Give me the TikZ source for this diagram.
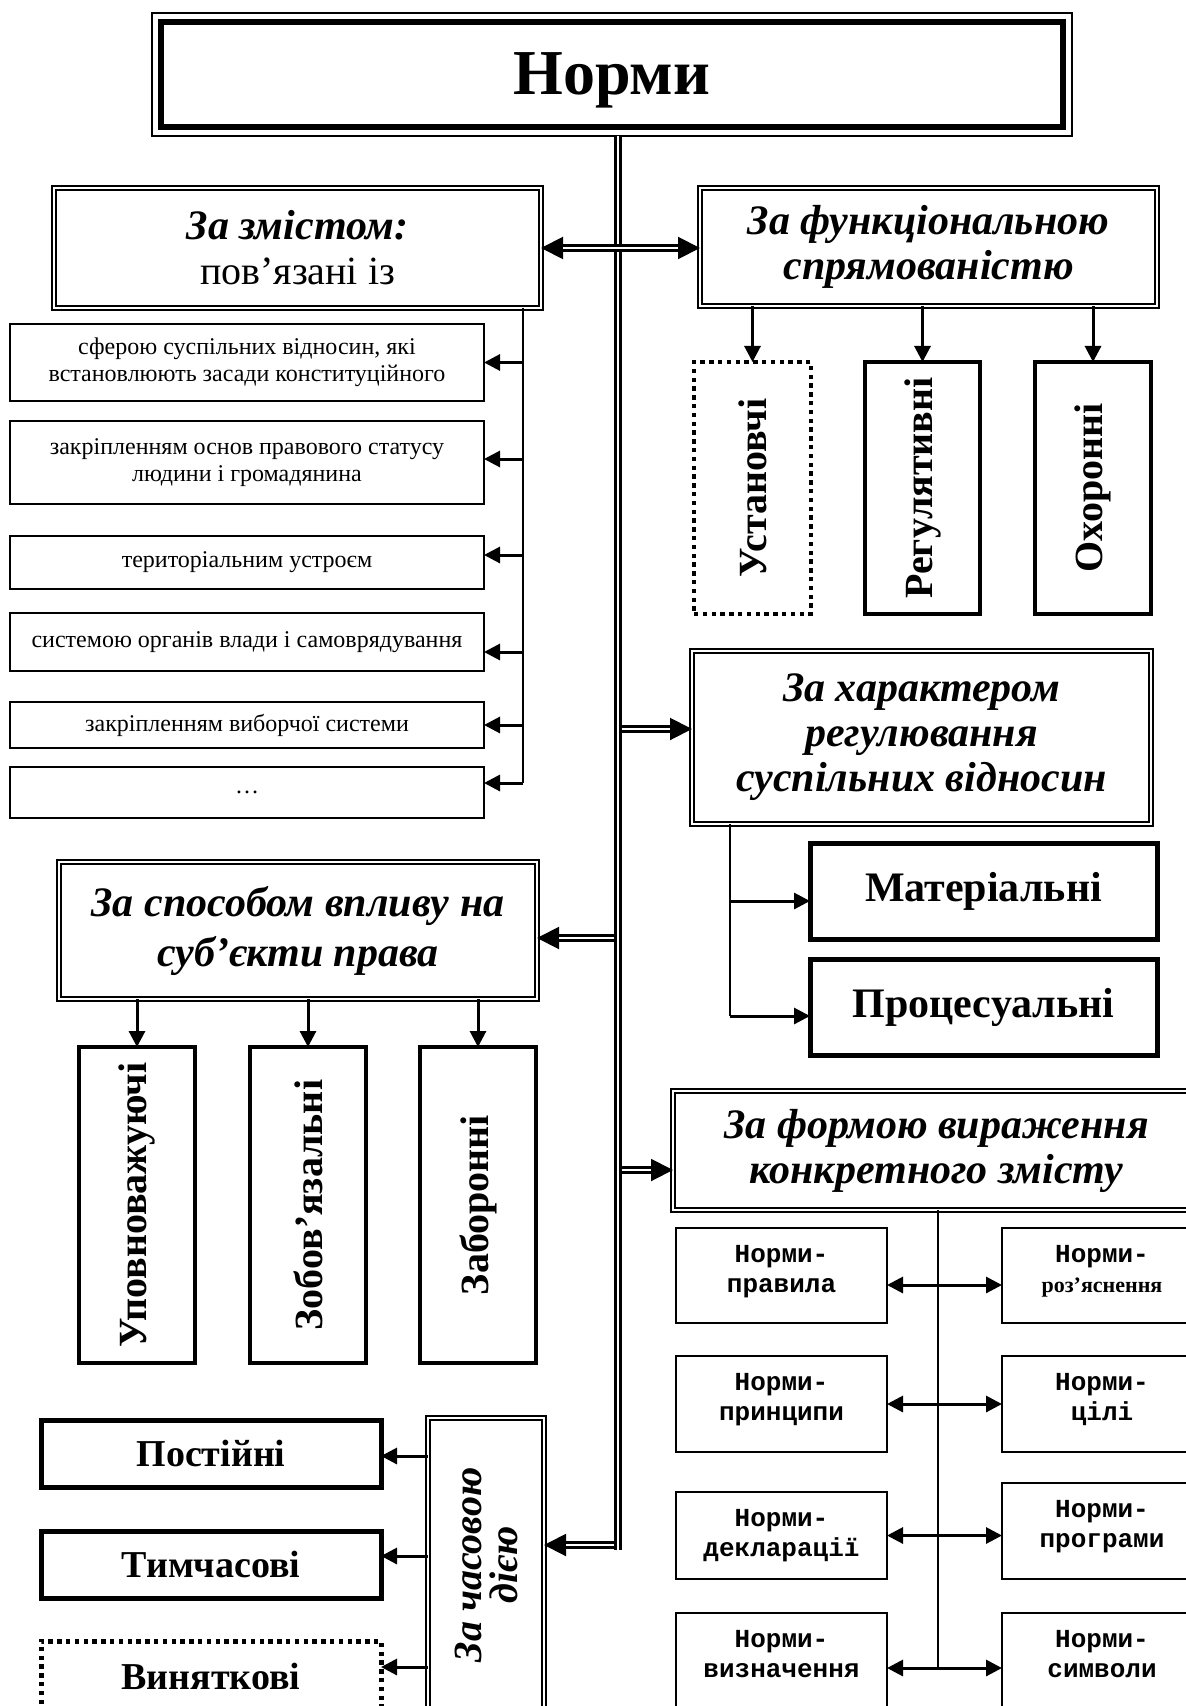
\documentclass[tikz,border=0pt]{standalone}
\usepackage{fontspec}
\usepackage{graphicx}
\setmainfont{Liberation Serif}
\newfontfamily\monof{Liberation Mono}
\usetikzlibrary{arrows.meta,calc}
\newcommand\hdf{\fontsize{21}{22.5}\selectfont\bfseries\itshape}
\begin{document}
\begin{tikzpicture}[x=0.5pt,y=-0.5pt,
 every node/.style={inner sep=0pt,outer sep=0pt},
 hbox/.style={draw,line width=0.9pt,double=white,double distance=1.4pt,align=center,font=\hdf},
 lbox/.style={draw,line width=0.8pt,minimum width=237pt,align=center,font=\fontsize{12}{13.6}\selectfont},
 vbox/.style={draw,line width=2.4pt,minimum width=58pt,minimum height=126pt,font=\fontsize{20}{22}\selectfont\bfseries},
 tbox/.style={draw,line width=2.5pt,font=\fontsize{21}{24}\selectfont\bfseries},
 dotted box/.style={dash pattern=on 2.2pt off 2.2pt},
 fbox/.style={draw,line width=0.7pt,minimum width=105.5pt},
 gbox/.style={draw,line width=0.7pt,minimum width=100pt},
 ftext/.style={anchor=north,align=center,font=\fontsize{13}{15}\selectfont\monof\bfseries},
 ln/.style={line width=0.7pt},
 arr/.style={line width=1.5pt,-{Triangle[length=8pt,width=8pt]}},
 biarr/.style={line width=1.5pt,{Triangle[length=8pt,width=8pt]}-{Triangle[length=8pt,width=8pt]}},
 dbl/.style={draw=black,line width=1.2pt,double=white,double distance=1.2pt},
 dtip/.style={line width=1pt,-{Triangle[length=11pt,width=11pt]}},
 dtipb/.style={line width=1pt,{Triangle[length=11pt,width=11pt]}-{Triangle[length=11pt,width=11pt]}},
]
\useasboundingbox (0,0) rectangle (1186,1706);
\clip (0,0) rectangle (1186,1706);
\fill[white] (0,0) rectangle (1186,1706);

% title
\node[draw,line width=0.6pt,minimum width=460pt,minimum height=61.5pt] (title) at (612,74.5) {};
\draw[line width=3.4pt] ([shift={(4.5pt,4.5pt)}]title.south west) rectangle ([shift={(-4.5pt,-4.5pt)}]title.north east);
\node[font=\fontsize{32}{36}\selectfont\bfseries] (titlet) at ([yshift=-3pt]title.center) {Норми};

% headings
\node[hbox,minimum width=243.5pt,minimum height=60pt] (zm) at (297.5,248) {За змістом:\\{\normalfont\fontsize{20}{20}\selectfont пов’язані із}};
\node[hbox,minimum width=228.5pt,minimum height=59pt] (fn) at (928.5,247) {За функціональною\\спрямованістю};
\node[hbox,minimum width=229.5pt,minimum height=86.5pt] (hr) at (921.5,737.5) {За характером\\регулювання\\суспільних відносин};
\node[hbox,minimum width=239pt,minimum height=68.5pt,font=\fontsize{21}{25}\selectfont\bfseries\itshape] (sp) at (298,930.5) {За способом впливу на\\суб’єкти права};
\node[hbox,minimum width=263.5pt,minimum height=59.5pt] (fm) at (936.5,1150.5) {За формою вираження\\конкретного змісту};
\node[hbox,minimum width=58pt,minimum height=147pt] (cd) at (486,1565) {};
\node[rotate=90,align=center,font=\fontsize{20}{18}\selectfont\bfseries\itshape] (cdt) at (cd.center) {За часовою\\дією};

% functional children
\node[vbox,dotted box,minimum width=58.5pt] (u1) at (752.5,488) {\rotatebox{90}{Установчі}};
\node[vbox,minimum width=57.5pt] (u2) at (922.5,488) {\rotatebox{90}{Регулятивні}};
\node[vbox] (u3) at (1093,488) {\rotatebox{90}{Охоронні}};

% content list
\node[lbox,minimum height=38.5pt] (l1) at (247,362.5) {сферою суспільних відносин, які\\встановлюють засади конституційного};
\node[lbox,minimum height=41.5pt] (l2) at (247,462.5) {закріпленням основ правового статусу\\людини і громадянина};
\node[lbox,minimum height=26.5pt] (l3) at (247,562.5) {територіальним устроєм};
\node[lbox,minimum height=29pt] (l4) at (247,642) {системою органів влади і самоврядування};
\node[lbox,minimum height=23pt] (l5) at (247,725) {закріпленням виборчої системи};
\node[lbox,minimum height=25.5pt] (l6) at (247,792.5) {…};

% character children
\node[tbox,minimum width=173.5pt,minimum height=48pt] (mat) at (983.5,891) {Матеріальні};
\node[tbox,minimum width=173.5pt,minimum height=48pt] (proc) at (983.5,1007) {Процесуальні};

% influence children
\node[vbox,minimum height=158pt] (a1) at (137,1205) {\rotatebox{90}{Уповноважуючі}};
\node[vbox,minimum height=158pt] (a2) at (308,1205) {\rotatebox{90}{Зобов’язальні}};
\node[vbox,minimum height=158pt] (a3) at (478,1205) {\rotatebox{90}{Заборонні}};

% form children
\node[fbox,minimum height=47.5pt] (f1) at (781.5,1275.5) {};
\node[gbox,minimum height=47.5pt] (g1) at (1102,1275.5) {};
\node[fbox,minimum height=48pt] (f2) at (781.5,1404) {};
\node[gbox,minimum height=48pt] (g2) at (1102,1404) {};
\node[fbox,minimum height=43.5pt] (f3) at (781.5,1535.5) {};
\node[gbox,minimum height=48pt] (g3) at (1102,1531) {};
\node[fbox,minimum height=48.5pt] (f4) at (781.5,1661.5) {};
\node[gbox,minimum height=48.5pt] (g4) at (1102,1661.5) {};
\node[ftext] (tf1) at ([yshift=-8.5pt]f1.north) {Норми-\\правила};
\node[ftext] (tg1) at ([yshift=-8.5pt]g1.north) {Норми-\\{\rmfamily\bfseries\fontsize{11}{15}\selectfont роз’яснення}};
\node[ftext] (tf2) at ([yshift=-8.5pt]f2.north) {Норми-\\принципи};
\node[ftext] (tg2) at ([yshift=-8.5pt]g2.north) {Норми-\\цілі};
\node[ftext] (tf3) at ([yshift=-8.5pt]f3.north) {Норми-\\декларації};
\node[ftext] (tg3) at ([yshift=-8.5pt]g3.north) {Норми-\\програми};
\node[ftext] (tf4) at ([yshift=-8.5pt]f4.north) {Норми-\\визначення};
\node[ftext] (tg4) at ([yshift=-8.5pt]g4.north) {Норми-\\символи};

% time children
\node[tbox,minimum width=170pt,minimum height=33.5pt,font=\fontsize{19}{22}\selectfont\bfseries] (p1) at (211,1453.5) {Постійні};
\node[tbox,minimum width=170pt,minimum height=33.5pt,font=\fontsize{19}{22}\selectfont\bfseries] (p2) at (211,1564.5) {Тимчасові};
\node[tbox,dotted box,minimum width=170pt,minimum height=35.5pt,font=\fontsize{19}{22}\selectfont\bfseries] (p3) at (211,1676.5) {Виняткові};

% trunk
\coordinate (t0) at ([xshift=3pt]title.south);
\coordinate (t1) at (618,1550);
\draw[dbl] (t0) -- (t1);

% double connectors
\coordinate (b0) at (618,248);
\draw[dtipb] (b0 -| zm.east) -- (b0 -| fn.west);
\draw[dbl,shorten <=11pt,shorten >=11pt] (b0 -| zm.east) -- (b0 -| fn.west);
\coordinate (j1) at (621.6,729);
\coordinate (j2) at (614.4,938);
\coordinate (j3) at (621.6,1170);
\coordinate (j4) at (614.4,1545);
\draw[dtip] (j1) -- (j1 -| hr.west);
\draw[dbl,shorten >=11pt] (j1) -- (j1 -| hr.west);
\draw[dtip] (j2) -- (j2 -| sp.east);
\draw[dbl,shorten >=11pt] (j2) -- (j2 -| sp.east);
\draw[dtip] (j3) -- (j3 -| fm.west);
\draw[dbl,shorten >=11pt] (j3) -- (j3 -| fm.west);
\draw[dtip] (j4) -- (j4 -| cd.east);
\draw[dbl,shorten >=11pt] (j4) -- (j4 -| cd.east);

% content list connectors
\coordinate (zv0) at ([xshift=-9pt]zm.south east);
\coordinate (zv1) at (523,783);
\coordinate (e1) at (l1.east);
\coordinate (e2) at ([yshift=1.75pt]l2.east);
\coordinate (e3) at ([yshift=3.75pt]l3.east);
\coordinate (e4) at ([yshift=-5pt]l4.east);
\coordinate (e5) at (l5.east);
\coordinate (e6) at ([yshift=4.75pt]l6.east);
\draw[ln] (zv0) -- (zv1);
\foreach \e in {e1,e2,e3,e4,e5,e6} \draw[arr] (zv0 |- \e) -- (\e);

% functional connectors
\foreach \u in {u1,u2,u3} \draw[arr] (\u.north |- fn.south) -- (\u.north);

% character connectors
\coordinate (hv0) at ([xshift=19pt]hr.south west);
\coordinate (em) at ([yshift=-5pt]mat.west);
\coordinate (ep) at ([yshift=-4.5pt]proc.west);
\draw[ln] (hv0) -- (hv0 |- ep);
\draw[arr] (hv0 |- em) -- (em);
\draw[arr] (hv0 |- ep) -- (ep);

% influence connectors
\foreach \a in {a1,a2,a3} \draw[arr] (\a.north |- sp.south) -- (\a.north);

% form connectors
\coordinate (fv0) at ([xshift=0.75pt]fm.south);
\coordinate (r1) at ([yshift=-4.75pt]f1.east);
\coordinate (r2) at (f2.east);
\coordinate (r3) at (f3.east);
\coordinate (r4) at ([yshift=-3.25pt]f4.east);
\draw[ln] (fv0) -- (fv0 |- r4);
\draw[biarr] (r1) -- (r1 -| g1.west);
\draw[biarr] (r2) -- (r2 -| g2.west);
\draw[biarr] (r3) -- (r3 -| g3.west);
\draw[biarr] (r4) -- (r4 -| g4.west);

% time connectors
\coordinate (q1) at ([yshift=-1.25pt]p1.east);
\coordinate (q2) at ([yshift=4.25pt]p2.east);
\coordinate (q3) at ([yshift=4.75pt]p3.east);
\draw[arr] (q1 -| cd.west) -- (q1);
\draw[arr] (q2 -| cd.west) -- (q2);
\draw[arr] (q3 -| cd.west) -- (q3);
\end{tikzpicture}
\end{document}
